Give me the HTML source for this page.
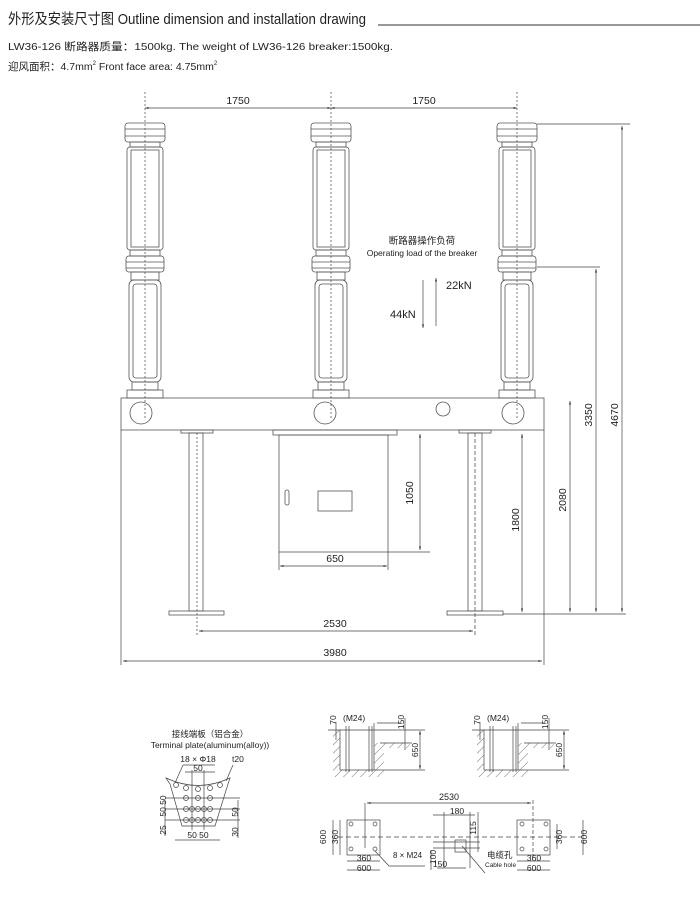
<!DOCTYPE html>
<html><head><meta charset="utf-8"><style>
html,body{margin:0;padding:0;background:#fff;}
svg{display:block;}
text{font-family:"Liberation Sans","Noto Sans CJK SC",sans-serif;fill:#222;}
</style></head><body>
<svg width="700" height="900" viewBox="0 0 700 900" xmlns="http://www.w3.org/2000/svg">
<defs>
<marker id="a" viewBox="0 0 10 10" refX="10" refY="5" markerWidth="5" markerHeight="5" orient="auto-start-reverse"><path d="M0,2 L10,5 L0,8 z" fill="#333"/></marker>
<pattern id="h" width="6" height="6" patternUnits="userSpaceOnUse" patternTransform="rotate(45)"><line x1="0" y1="0" x2="0" y2="6" stroke="#555" stroke-width="0.8"/></pattern>
<g id="col" fill="none" stroke="#555" stroke-width="0.8">
<rect x="-20" y="123" width="40" height="19" rx="3"/>
<line x1="-20" y1="129" x2="20" y2="129"/><line x1="-20" y1="136" x2="20" y2="136"/>
<rect x="-15" y="142" width="30" height="5"/>
<rect x="-18" y="147" width="36" height="103" rx="3"/>
<rect x="-14" y="150" width="28" height="97"/>
<rect x="-15" y="250" width="30" height="6"/>
<rect x="-19" y="256" width="38" height="16" rx="3"/>
<line x1="-19" y1="262" x2="19" y2="262"/><line x1="-19" y1="268" x2="19" y2="268"/>
<rect x="-14" y="272" width="28" height="8"/>
<rect x="-16" y="280" width="32" height="102" rx="5"/>
<rect x="-12" y="284" width="24" height="94" rx="3"/>
<rect x="-13" y="382" width="26" height="8"/>
<rect x="-18" y="390" width="36" height="8"/>
</g>
</defs>

<text x="8" y="24" font-size="14.5" textLength="358" lengthAdjust="spacingAndGlyphs">外形及安装尺寸图 Outline dimension and installation drawing</text>
<line x1="378" y1="25" x2="700" y2="25" stroke="#333" stroke-width="1"/>
<text x="8" y="50" font-size="10.5" textLength="385" lengthAdjust="spacingAndGlyphs">LW36-126 断路器质量：1500kg.     The weight of LW36-126 breaker:1500kg.</text>
<text x="8" y="70" font-size="10.5">迎风面积：4.7mm<tspan font-size="6" dy="-5">2</tspan><tspan dy="5">  Front face area: 4.75mm</tspan><tspan font-size="6" dy="-5">2</tspan></text>

<g stroke="#444" stroke-width="0.7" fill="none">
<line x1="145" y1="108" x2="331" y2="108" marker-start="url(#a)" marker-end="url(#a)"/>
<line x1="331" y1="108" x2="517" y2="108" marker-start="url(#a)" marker-end="url(#a)"/>
<g stroke-dasharray="2,2">
<line x1="145" y1="92" x2="145" y2="420"/><line x1="331" y1="92" x2="331" y2="420"/><line x1="517" y1="92" x2="517" y2="420"/>
</g>
</g>
<text x="238" y="104" font-size="10.5" text-anchor="middle">1750</text>
<text x="424" y="104" font-size="10.5" text-anchor="middle">1750</text>

<use href="#col" x="145"/><use href="#col" x="331"/><use href="#col" x="517"/>

<g fill="none" stroke="#555" stroke-width="0.8">
<rect x="121" y="398" width="423" height="32"/>
<circle cx="141" cy="413" r="11"/><circle cx="325" cy="413" r="11"/><circle cx="513" cy="413" r="11"/><circle cx="443" cy="409" r="7"/>
<rect x="181" y="430" width="32" height="3"/>
<rect x="189" y="433" width="14" height="178"/>
<rect x="169" y="611" width="55" height="4"/>
<line x1="197" y1="433" x2="197" y2="636" stroke-dasharray="2,2"/>
<rect x="459" y="430" width="32" height="3"/>
<rect x="468" y="433" width="14" height="178"/>
<rect x="447" y="611" width="56" height="4"/>
<line x1="475" y1="433" x2="475" y2="636" stroke-dasharray="4,2"/>
<rect x="273" y="430" width="124" height="5"/>
<rect x="279" y="435" width="109" height="117"/>
<rect x="318" y="491" width="34" height="20"/>
<rect x="285" y="490" width="4" height="15" rx="2"/>
</g>

<g stroke="#444" stroke-width="0.7" fill="none">
<line x1="388" y1="552" x2="430" y2="552"/>
<line x1="420" y1="434" x2="420" y2="550" marker-start="url(#a)" marker-end="url(#a)"/>
<line x1="279" y1="552" x2="279" y2="570"/><line x1="388" y1="552" x2="388" y2="570"/>
<line x1="280" y1="566" x2="387" y2="566" marker-start="url(#a)" marker-end="url(#a)"/>
<line x1="199" y1="631" x2="473" y2="631" marker-start="url(#a)" marker-end="url(#a)"/>
<line x1="121" y1="430" x2="121" y2="665"/><line x1="544" y1="430" x2="544" y2="665"/>
<line x1="123" y1="661" x2="542" y2="661" marker-start="url(#a)" marker-end="url(#a)"/>
<line x1="503" y1="614" x2="626" y2="614"/>
<line x1="537" y1="124" x2="630" y2="124"/>
<line x1="537" y1="267" x2="600" y2="267"/>
<line x1="522" y1="434" x2="522" y2="612" marker-start="url(#a)" marker-end="url(#a)"/>
<line x1="570" y1="401" x2="570" y2="612" marker-start="url(#a)" marker-end="url(#a)"/>
<line x1="596" y1="269" x2="596" y2="612" marker-start="url(#a)" marker-end="url(#a)"/>
<line x1="622" y1="126" x2="622" y2="612" marker-start="url(#a)" marker-end="url(#a)"/>
<line x1="423" y1="280" x2="423" y2="328" marker-end="url(#a)"/>
<line x1="436" y1="326" x2="436" y2="278" marker-end="url(#a)"/>
</g>
<text x="335" y="562" font-size="10.5" text-anchor="middle">650</text>
<text x="335" y="627" font-size="10.5" text-anchor="middle">2530</text>
<text x="335" y="656" font-size="10.5" text-anchor="middle">3980</text>
<text font-size="10.5" text-anchor="middle" transform="translate(413,493) rotate(-90)">1050</text>
<text font-size="10.5" text-anchor="middle" transform="translate(519,520) rotate(-90)">1800</text>
<text font-size="10.5" text-anchor="middle" transform="translate(566,500) rotate(-90)">2080</text>
<text font-size="10.5" text-anchor="middle" transform="translate(592,415) rotate(-90)">3350</text>
<text font-size="10.5" text-anchor="middle" transform="translate(618,415) rotate(-90)">4670</text>
<text x="422" y="244" font-size="9.5" text-anchor="middle">断路器操作负荷</text>
<text x="422" y="256" font-size="8.5" text-anchor="middle">Operating load of the breaker</text>
<text x="446" y="289" font-size="11">22kN</text>
<text x="390" y="318" font-size="11">44kN</text>

<text x="210" y="737" font-size="8.5" text-anchor="middle">接线端板（铝合金）</text>
<text x="210" y="748" font-size="8.5" text-anchor="middle">Terminal plate(aluminum(alloy))</text>
<g fill="none" stroke="#444" stroke-width="0.7">
<path d="M166,778 Q198,793 230,778 L228,784 L215,826 L182,826 L170,784 Z"/>
<g>
<circle cx="176" cy="785" r="2.5"/><circle cx="186" cy="788" r="2.5"/><circle cx="198" cy="789" r="2.5"/><circle cx="210" cy="788" r="2.5"/><circle cx="220" cy="785" r="2.5"/>
<circle cx="186" cy="798" r="2.5"/><circle cx="198" cy="798" r="2.5"/><circle cx="210" cy="798" r="2.5"/>
<circle cx="186" cy="809" r="2.5"/><circle cx="192" cy="809" r="2.5"/><circle cx="198" cy="809" r="2.5"/><circle cx="204" cy="809" r="2.5"/><circle cx="210" cy="809" r="2.5"/>
<circle cx="186" cy="820" r="2.5"/><circle cx="192" cy="820" r="2.5"/><circle cx="198" cy="820" r="2.5"/><circle cx="204" cy="820" r="2.5"/><circle cx="210" cy="820" r="2.5"/>
</g>
<line x1="175" y1="783" x2="183" y2="765"/><line x1="183" y1="765" x2="215" y2="765"/>
<line x1="226" y1="781" x2="233" y2="765"/>
<line x1="185" y1="772" x2="215" y2="772"/>
<line x1="192" y1="770" x2="192" y2="830"/><line x1="204" y1="770" x2="204" y2="830"/>
<line x1="165" y1="798" x2="240" y2="798"/><line x1="165" y1="809" x2="240" y2="809"/><line x1="165" y1="820" x2="240" y2="820"/>
<line x1="175" y1="840" x2="220" y2="840"/>
<line x1="238" y1="800" x2="238" y2="838"/>
<line x1="165" y1="800" x2="165" y2="836"/>
</g>
<text x="198" y="762" font-size="8.5" text-anchor="middle">18 × Φ18</text>
<text x="232" y="762" font-size="8.5">t20</text>
<text x="198" y="771" font-size="8.5" text-anchor="middle">50</text>
<text x="198" y="838" font-size="8.5" text-anchor="middle">50 50</text>
<text font-size="8.5" text-anchor="middle" transform="translate(166,806) rotate(-90)">50 50</text>
<text font-size="8.5" text-anchor="middle" transform="translate(166,830) rotate(-90)">25</text>
<text font-size="8.5" text-anchor="middle" transform="translate(238,812) rotate(-90)">50</text>
<text font-size="8.5" text-anchor="middle" transform="translate(238,832) rotate(-90)">30</text>

<g id="fs">
<path d="M333,730 L374,730 L374,743 L410,743 L410,748 L384,748 L384,777 L333,777 Z" fill="url(#h)" stroke="none"/>
<rect x="340" y="730" width="34" height="40" fill="#fff" stroke="none"/>
<g fill="none" stroke="#444" stroke-width="0.7">
<line x1="328" y1="730" x2="425" y2="730"/><line x1="380" y1="743" x2="412" y2="743"/>
<line x1="340" y1="730" x2="340" y2="770"/><line x1="374" y1="730" x2="374" y2="770"/><line x1="340" y1="770" x2="425" y2="770"/>
<line x1="346" y1="726" x2="346" y2="772"/><line x1="349" y1="726" x2="349" y2="772"/>
<line x1="369" y1="726" x2="369" y2="772"/><line x1="372" y1="726" x2="372" y2="772"/>
<line x1="420" y1="731" x2="420" y2="769" marker-start="url(#a)" marker-end="url(#a)"/>
<line x1="405" y1="718" x2="405" y2="750"/>
<line x1="374" y1="723" x2="374" y2="730"/><line x1="377" y1="723" x2="400" y2="723"/>
<line x1="336" y1="722" x2="336" y2="740"/>
</g>
<text x="343" y="721" font-size="8.5">(M24)</text>
<text font-size="8.5" text-anchor="middle" transform="translate(336,720) rotate(-90)">70</text>
<text font-size="8.5" text-anchor="middle" transform="translate(404,722) rotate(-90)">150</text>
<text font-size="8.5" text-anchor="middle" transform="translate(418,750) rotate(-90)">650</text>
</g>
<use href="#fs" x="144"/>

<g fill="none" stroke="#444" stroke-width="0.7">
<rect x="347" y="820" width="33" height="35"/>
<rect x="517" y="820" width="33" height="35"/>
<circle cx="351" cy="824" r="2"/><circle cx="375" cy="824" r="2"/><circle cx="351" cy="849" r="2"/><circle cx="375" cy="849" r="2"/>
<circle cx="522" cy="824" r="2"/><circle cx="546" cy="824" r="2"/><circle cx="522" cy="849" r="2"/><circle cx="546" cy="849" r="2"/>
<line x1="338" y1="837" x2="582" y2="837" stroke-dasharray="5,3"/>
<line x1="365" y1="803" x2="365" y2="848"/>
<line x1="533" y1="800" x2="533" y2="860" stroke-dasharray="4,2"/>
<line x1="367" y1="803" x2="531" y2="803" marker-start="url(#a)" marker-end="url(#a)"/>
<rect x="455" y="840" width="11" height="12"/>
<line x1="433" y1="815" x2="475" y2="815"/><line x1="444" y1="812" x2="444" y2="868"/><line x1="470" y1="812" x2="470" y2="868"/>
<line x1="433" y1="842" x2="480" y2="842"/><line x1="433" y1="848" x2="480" y2="848"/>
<line x1="478" y1="812" x2="478" y2="852"/>
<line x1="431" y1="850" x2="431" y2="870"/>
<line x1="437" y1="868" x2="466" y2="868"/>
<line x1="340" y1="820" x2="340" y2="855"/><line x1="333" y1="820" x2="333" y2="855"/>
<line x1="347" y1="861" x2="380" y2="861"/><line x1="347" y1="870" x2="380" y2="870"/>
<line x1="517" y1="861" x2="550" y2="861"/><line x1="517" y1="870" x2="550" y2="870"/>
<line x1="557" y1="824" x2="557" y2="849"/><line x1="583" y1="820" x2="583" y2="855"/>
<line x1="375" y1="851" x2="389" y2="866"/><line x1="389" y1="866" x2="425" y2="866"/>
<line x1="462" y1="846" x2="485" y2="873"/>
</g>
<text x="449" y="800" font-size="9" text-anchor="middle">2530</text>
<text x="457" y="814" font-size="8.5" text-anchor="middle">180</text>
<text x="364" y="861" font-size="8.5" text-anchor="middle">360</text>
<text x="364" y="871" font-size="8.5" text-anchor="middle">600</text>
<text x="534" y="861" font-size="8.5" text-anchor="middle">360</text>
<text x="534" y="871" font-size="8.5" text-anchor="middle">600</text>
<text x="393" y="858" font-size="8">8 × M24</text>
<text x="440" y="867" font-size="8.5" text-anchor="middle">150</text>
<text x="487" y="858" font-size="8.5">电缆孔</text>
<text x="485" y="867" font-size="6.5">Cable hole</text>
<text font-size="8.5" text-anchor="middle" transform="translate(326,837) rotate(-90)">600</text>
<text font-size="8.5" text-anchor="middle" transform="translate(338,837) rotate(-90)">360</text>
<text font-size="8.5" text-anchor="middle" transform="translate(562,837) rotate(-90)">360</text>
<text font-size="8.5" text-anchor="middle" transform="translate(587,837) rotate(-90)">600</text>
<text font-size="8.5" text-anchor="middle" transform="translate(476,828) rotate(-90)">115</text>
<text font-size="8.5" text-anchor="middle" transform="translate(436,857) rotate(-90)">100</text>
</svg>
</body></html>
